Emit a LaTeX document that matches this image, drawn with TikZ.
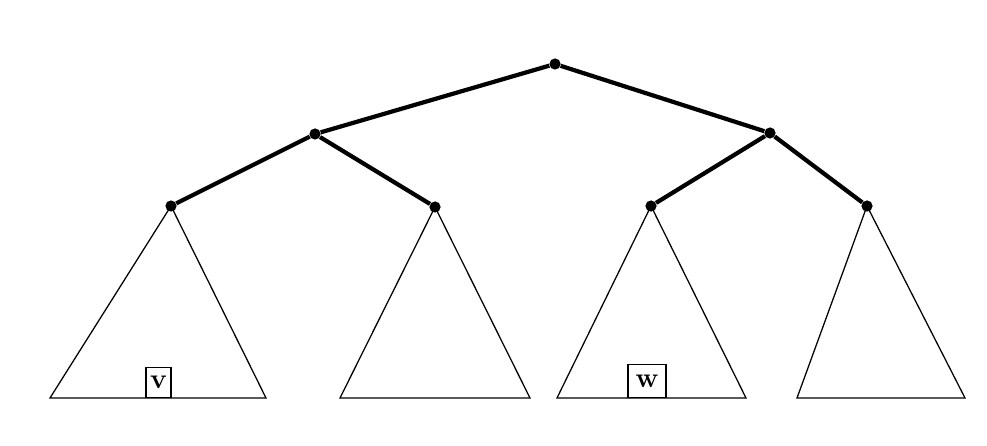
\documentclass[tikz,border=0pt]{standalone}
\usepackage{tikz}
\usetikzlibrary{calc}

\begin{document}
\begin{tikzpicture}[x=0.025cm,y=-0.025cm,
		every edge/.style = {draw=black,line width=3pt},
		dot/.style = {circle, fill=black, inner sep=0pt, minimum size=2.8mm},
		tri/.style = {draw=black, line width=0.9pt, line join=miter},
		lbox/.style args = {#1/#2}{%
			draw, line width=0.9pt, inner sep=0pt, anchor=south,
			minimum width=#1, minimum height=#2,
			font=\fontsize{20}{24}\selectfont\bfseries}
		]
		\useasboundingbox (0,0) rectangle (987,446);
		\node (r) [dot] at (555,64) {};
		\node (a) [dot] at (315,134) {};
		\node (b) [dot] at (770,133) {};
		\node (l1) [dot] at (171,206) {};
		\node (l2) [dot] at (435,207) {};
		\node (l3) [dot] at (651,206) {};
		\node (l4) [dot] at (867,206) {};
		\coordinate (p1) at (50,398);  \coordinate (q1) at (266,398);
		\coordinate (p2) at (340,398); \coordinate (q2) at (530,398);
		\coordinate (p3) at (557,398); \coordinate (q3) at (746,398);
		\coordinate (p4) at (797,398); \coordinate (q4) at (965,398);
		\foreach \from/\to in {r/a, r/b, a/l1, a/l2, b/l3, b/l4}
		\draw (\from) edge (\to);
		\foreach \i in {1,2,3,4}
		\draw[tri] (l\i.center) -- (p\i) -- (q\i) -- cycle;
		\node (v) [lbox=0.62cm/0.75cm] at (158.5,398) {v};
		\node (w) [lbox=0.95cm/0.82cm] at (647,398) {w};
	\end{tikzpicture}
\end{document}
